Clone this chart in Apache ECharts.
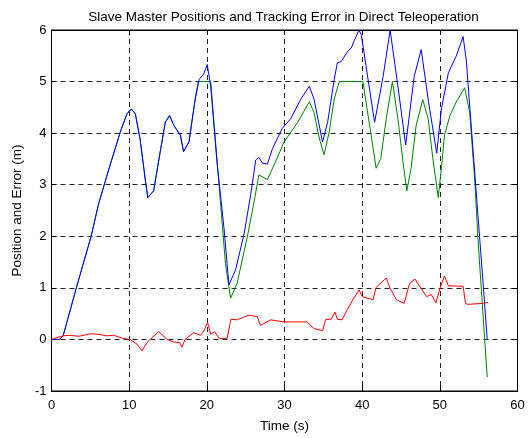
<!DOCTYPE html>
<html><head><meta charset="utf-8">
<script src="https://cdn.jsdelivr.net/npm/echarts@6/dist/echarts.min.js"></script>
<style>html,body{margin:0;padding:0;background:#fff}#c{width:528px;height:438px}</style>
</head><body><div id="c"></div>
<script>
const xTicks = [0,10,20,30,40,50,60];
const yTicks = [-1,0,1,2,3,4,5,6];

const masterT = [0,1.0,1.5,3.2,5.1,6.05,7.3,8.85,9.7,10.27,10.8,11.4,12.1,12.4,13.15,14.0,14.65,15.2,15.75,16.6,17.0,17.7,18.5,19.0,19.6,20.05,20.5,21.3,22.2,22.85,23.7,24.8,25.65,26.3,26.7,27.15,27.8,28.45,29.7,30.8,32.1,33.2,33.8,34.9,35.55,36.4,36.8,37.3,38.1,38.6,39.0,39.6,39.9,40.7,41.6,42.7,43.6,44.6,45.6,46.7,47.6,48.55,49.6,50.2,51.1,52.1,53.0,53.4,54.07,54.9,55.6,56.1];
const masterV = [0,0,0.07,1.0,2.0,2.62,3.26,4.02,4.37,4.47,4.37,3.89,3.07,2.75,2.88,3.64,4.21,4.34,4.15,3.96,3.64,3.83,4.66,5.04,5.15,5.33,4.91,3.45,2.17,1.06,1.35,2.05,2.81,3.48,3.53,3.42,3.40,3.70,4.09,4.28,4.66,4.91,4.66,3.83,4.21,5.04,5.36,5.39,5.58,5.65,5.8,6.0,5.9,5.1,4.21,5.1,6.0,4.91,3.77,5.1,5.62,4.6,3.61,4.47,5.17,5.49,5.87,5.42,4.08,2.43,1.03,0.0];

const slaveT = [0,1.0,1.5,3.2,5.1,6.05,7.3,8.85,9.7,10.27,10.8,11.4,12.1,12.4,13.15,14.0,14.65,15.2,15.75,16.6,17.0,17.7,18.5,18.9,20.5,21.3,22.4,23.06,23.9,25.2,26.1,26.7,27.8,28.65,29.95,31.7,33.2,33.8,34.5,35.1,35.75,36.4,37.05,40.1,40.5,41.15,41.8,42.4,43.1,43.9,44.6,45.25,45.75,46.3,46.95,47.8,48.5,49.1,49.8,50.2,50.6,51.3,52.1,53.2,53.85,54.5,54.9,55.4,56.1];
const slaveV = [0,0,0.07,1.0,2.0,2.62,3.26,4.02,4.37,4.47,4.37,3.89,3.07,2.75,2.88,3.64,4.21,4.34,4.15,3.96,3.64,3.83,4.66,5.0,5.0,3.5,1.47,0.80,1.09,1.98,2.68,3.19,3.10,3.38,3.83,4.21,4.61,4.40,3.89,3.58,4.02,4.66,5.0,5.0,4.6,3.96,3.32,3.51,4.28,5.0,4.28,3.45,2.88,3.32,4.15,4.65,4.28,3.51,2.75,3.32,3.96,4.34,4.6,4.88,4.4,3.07,1.98,0.84,-0.73];

const errT = [0,1.5,2.4,3.5,5.0,6.0,7.1,8.0,9.2,10.1,11.0,11.65,12.3,12.7,13.8,14.9,15.7,16.5,16.8,17.2,18.3,19.2,19.6,20.1,20.5,21.0,21.6,22.6,23.1,23.9,25.4,26.5,26.9,28.2,29.95,32.9,33.8,34.9,35.3,36.0,36.5,36.8,37.4,38.1,38.8,39.6,40.0,41.4,41.8,43.1,43.6,44.4,45.4,46.1,46.8,47.9,48.3,48.9,49.5,50.1,50.6,51.1,53.0,53.3,53.6,55.6,56.2];
const errV = [0,0.07,0.08,0.06,0.11,0.1,0.07,0.08,0.02,0.0,-0.09,-0.22,-0.06,0.0,0.15,0.0,-0.05,-0.06,-0.15,0.0,0.13,0.08,0.16,0.33,0.1,0.15,0.02,0.02,0.39,0.38,0.47,0.44,0.27,0.38,0.34,0.34,0.21,0.17,0.39,0.39,0.53,0.39,0.38,0.58,0.77,0.96,0.83,0.77,1.01,1.19,0.99,0.77,0.70,1.08,1.17,0.92,0.83,0.87,0.71,1.03,1.23,1.04,1.03,0.70,0.68,0.70,0.72];

const zip = (t, v) => t.map((x, i) => [x, v[i]]);
const font = 'Liberation Sans, Arial, sans-serif';
const gridLine = {show: true, lineStyle: {color: '#222', type: [5, 4], width: 1}};
const axLine = {show: true, onZero: false, lineStyle: {color: '#000'}};
const tick = {show: true, inside: true, length: 5, lineStyle: {color: '#000'}};

const chart = echarts.init(document.getElementById('c'), null, {renderer: 'canvas'});
chart.setOption({
  animation: false,
  backgroundColor: '#fff',
  title: {text: 'Slave Master Positions and Tracking Error in Direct Teleoperation', left: 278.5, top: 5, textAlign: 'center',
    textStyle: {fontFamily: font, fontSize: 13.5, fontWeight: 'normal', color: '#000'}},
  grid: {left: 51.5, right: 10.5, top: 30, bottom: 42, show: true, borderColor: '#000', borderWidth: 1, backgroundColor: '#fff'},
  xAxis: [{type: 'value', min: 0, max: 60, interval: 10, name: 'Time (s)', nameLocation: 'middle', nameGap: 28,
    nameTextStyle: {fontFamily: font, fontSize: 13.5, color: '#000'},
    axisLine: axLine, axisTick: tick,
    axisLabel: {fontFamily: font, fontSize: 13, color: '#000', margin: 8}, splitLine: gridLine},
   {type: 'value', position: 'top', min: 0, max: 60, interval: 10, axisLine: axLine,
    axisTick: tick, axisLabel: {show: false}, splitLine: {show: false}}],
  yAxis: [{type: 'value', min: -1, max: 6, interval: 1, name: 'Position and Error (m)', nameLocation: 'middle', nameGap: 27,
    nameTextStyle: {fontFamily: font, fontSize: 13.5, color: '#000'},
    axisLine: axLine, axisTick: tick,
    axisLabel: {fontFamily: font, fontSize: 13, color: '#000', margin: 5}, splitLine: gridLine},
   {type: 'value', position: 'right', min: -1, max: 6, interval: 1, axisLine: axLine,
    axisTick: tick, axisLabel: {show: false}, splitLine: {show: false}}],
  series: [
    {type: 'line', data: zip(slaveT, slaveV), showSymbol: false, lineStyle: {color: '#008000', width: 1}, z: 3},
    {type: 'line', data: zip(masterT, masterV), showSymbol: false, lineStyle: {color: '#0000ff', width: 1}, z: 4},
    {type: 'line', data: zip(errT, errV), showSymbol: false, lineStyle: {color: '#ff0000', width: 1}, z: 5}
  ]
});
</script></body></html>
